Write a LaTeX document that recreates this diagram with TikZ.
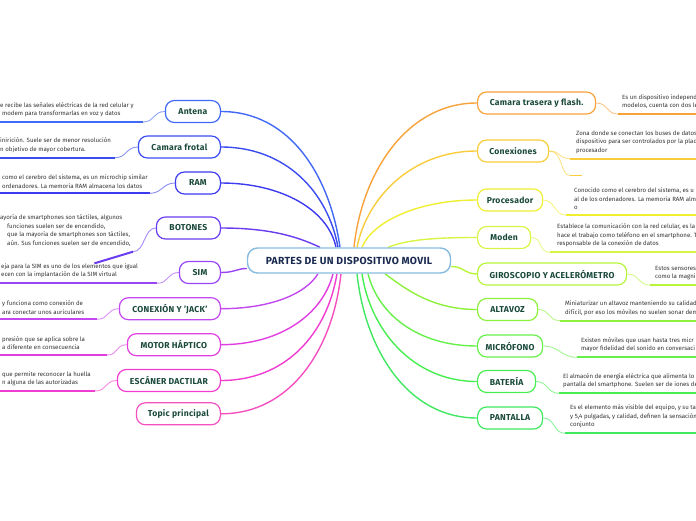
\documentclass[tikz,border=0pt]{standalone}
\usepackage{fontspec}
\setmainfont{Fira Sans}
\usetikzlibrary{backgrounds,calc}
\definecolor{cA}{HTML}{4169F5}
\definecolor{cB}{HTML}{3A4CF0}
\definecolor{cC}{HTML}{3D3BF0}
\definecolor{cD}{HTML}{6A3CF0}
\definecolor{cE}{HTML}{9A45F5}
\definecolor{cF}{HTML}{C348F0}
\definecolor{cG}{HTML}{E23DE0}
\definecolor{cH}{HTML}{F03CD0}
\definecolor{cI}{HTML}{F550C0}
\definecolor{rA}{HTML}{F8A23A}
\definecolor{rB}{HTML}{F8CC3A}
\definecolor{rC}{HTML}{F0EE30}
\definecolor{rD}{HTML}{D8F545}
\definecolor{rE}{HTML}{B8F53A}
\definecolor{rF}{HTML}{8CF03C}
\definecolor{rG}{HTML}{66F04A}
\definecolor{rH}{HTML}{48EE50}
\definecolor{rI}{HTML}{40E860}
\definecolor{mainc}{HTML}{86BBE0}
\definecolor{labelc}{HTML}{1B4A3C}
\definecolor{ctext}{HTML}{1A2A50}
\definecolor{descc}{HTML}{333333}
\begin{document}
\begin{tikzpicture}[x=1pt,y=-1pt,
  topic/.style={draw=#1, line width=1.2pt, fill=white, rounded corners=9pt,
    minimum height=22pt, inner sep=2pt, text=labelc,
    font=\fontsize{8.6}{10}\selectfont\bfseries\addfontfeature{LetterSpace=3}},
  conn/.style={draw=#1, line width=1.4pt},
  sub/.style={draw=#1, line width=0.9pt, draw opacity=0.6},
  ul/.style={draw=#1, line width=2pt},
  desc/.style={inner sep=0pt, align=left, anchor=south west, text=descc,
    font=\fontsize{6.1}{8.5}\selectfont}]
\useasboundingbox (0,0) rectangle (696,520);
\clip (0,0) rectangle (696,520);
% central node
\node[draw=mainc, line width=1.4pt, fill=white, rounded corners=10pt,
  minimum width=203pt, minimum height=25pt, text=ctext,
  font=\fontsize{10.3}{11}\selectfont\bfseries\addfontfeature{LetterSpace=3}] (c) at (349,260.5) {PARTES DE UN DISPOSITIVO MOVIL};
% left topics
\node[topic=cA, minimum width=55pt, anchor=east] (antena) at (221,111.5) {Antena};
\node[topic=cB, minimum width=82pt, anchor=east] (camf) at (221,147) {Camara frotal};
\node[topic=cC, minimum width=45pt, anchor=east] (ram) at (221,183) {RAM};
\node[topic=cD, minimum width=64pt, anchor=east] (bot) at (221,228) {BOTONES};
\node[topic=cE, minimum width=41pt, anchor=east] (sim) at (221,272.5) {SIM};
\node[topic=cF, minimum width=101pt, anchor=east] (jack) at (221,308.7) {CONEXIÓN Y 'JACK'};
\node[topic=cG, minimum width=93pt, anchor=east] (motor) at (221,344.7) {MOTOR HÁPTICO};
\node[topic=cH, minimum width=103pt, anchor=east] (esc) at (221,380.5) {ESCÁNER DACTILAR};
\node[topic=cI, minimum width=84pt, anchor=east] (topic) at (221,413.8) {Topic principal};
% right topics
\node[topic=rA, minimum width=118pt, anchor=west] (camt) at (477,103) {Camara trasera y flash.};
\node[topic=rB, minimum width=71pt, anchor=west] (conx) at (477,151) {Conexiones};
\node[topic=rC, minimum width=65pt, anchor=west] (proc) at (477,200) {Procesador};
\node[topic=rD, minimum width=53pt, anchor=west] (moden) at (477,237.5) {Moden};
\node[topic=rE, minimum width=149pt, anchor=west] (giro) at (477,274) {GIROSCOPIO Y ACELERÓMETRO};
\node[topic=rF, minimum width=60pt, anchor=west] (alta) at (477,309.5) {ALTAVOZ};
\node[topic=rG, minimum width=65pt, anchor=west] (micro) at (477,346) {MICRÓFONO};
\node[topic=rH, minimum width=58pt, anchor=west] (bat) at (477,381.5) {BATERÍA};
\node[topic=rI, minimum width=65pt, anchor=west] (pant) at (477,418) {PANTALLA};
% underline coordinates
\coordinate (aU) at (143,122);   \coordinate (aE) at (0,122);
\coordinate (bU) at (115,157.7); \coordinate (bE) at (0,157.7);
\coordinate (cU) at (150,193.3); \coordinate (cE) at (0,193.3);
\coordinate (dU) at (133,251.7); \coordinate (dE) at (0,251.7);
\coordinate (eU) at (157,283.3); \coordinate (eE) at (0,283.3);
\coordinate (fU) at (97,319.3);  \coordinate (fE) at (0,319.3);
\coordinate (gU) at (107,355);   \coordinate (gE) at (0,355);
\coordinate (hU) at (95,391);    \coordinate (hE) at (0,391);
\coordinate (r1U) at (618,114);   \coordinate (r1E) at (696,114);
\coordinate (r2U) at (570,158.7); \coordinate (r2E) at (696,158.7);
\coordinate (r2V) at (570,175.5); \coordinate (r2W) at (582,175.5);
\coordinate (r3U) at (566,215);   \coordinate (r3E) at (696,215);
\coordinate (r4U) at (550,252.3); \coordinate (r4E) at (696,252.3);
\coordinate (r5U) at (650,285);   \coordinate (r5E) at (696,285);
\coordinate (r6U) at (560,320.7); \coordinate (r6E) at (696,320.7);
\coordinate (r7U) at (577,357.3); \coordinate (r7E) at (696,357.3);
\coordinate (r8U) at (559,393.3); \coordinate (r8E) at (696,393.3);
\coordinate (r9U) at (565,433.3); \coordinate (r9E) at (696,433.3);
% descriptions left
\node[desc] (dA) at (0,117) {e recibe las señales  eléctricas de la red celular y\\\hspace*{2pt}modem para transformarlas en voz y datos};
\node[desc] (dB) at (0,152.7) {inirición. Suele ser de menor resolución\\n objetivo de mayor cobertura.};
\node[desc] (dC) at (2,188.3) {como el cerebro del sistema, es un microchip similar\\ordenadores. La memoria RAM almacena los datos};
\node[desc] (dD) at (0,246.7) {ayoría de smartphones son táctiles, algunos\\\hspace*{7pt}funciones suelen ser de encendido,\\\hspace*{7pt}que la mayoría de smartphones son táctiles,\\\hspace*{7pt}aún. Sus funciones suelen ser de encendido,};
\node[desc] (dE) at (1,278.3) {eja para la SIM es uno de los elementos que igual\\ecen con la implantación de la SIM virtual};
\node[desc] (dF) at (2,314.3) {y funciona como conexión de\\ara conectar unos auriculares};
\node[desc] (dG) at (2,350) {presión que se aplica sobre la\\a diferente en consecuencia};
\node[desc] (dH) at (2,386) {que permite reconocer la huella\\n alguna de las autorizadas};
% descriptions right
\node[desc] (sA) at (622,109) {Es un dispositivo independ\\modelos, cuenta con dos le};
\node[desc] (sB) at (576,153.7) {Zona donde se conectan los buses de datos\\dispositivo para ser controlados por la placa\\procesador};
\node[desc] (sC) at (574,210) {Conocido como el cerebro del sistema, es u\\al de los ordenadores. La memoria RAM alm\\o};
\node[desc] (sD) at (557,247.3) {Establece la comunicación con la red celular, es la\\hace el trabajo como teléfono en el smartphone. T\\responsable de la conexión de datos};
\node[desc] (sE) at (655,280) {Estos sensores\\como la magni};
\node[desc] (sF) at (565,315.7) {Miniaturizar un altavoz manteniendo su calidad\\difícil, por eso los móviles no suelen sonar dem};
\node[desc] (sG) at (581,352.3) {Existen móviles que usan hasta tres micr\\mayor fidelidad del sonido en conversaci};
\node[desc] (sH) at (563,388.3) {El almacén de energía eléctrica que alimenta lo\\pantalla del smartphone. Suelen ser de iones de};
\node[desc] (sI) at (570,428.3) {Es el elemento más visible del equipo, y su ta\\y 5,4 pulgadas, y calidad, definen la sensación\\conjunto};
\begin{pgfonlayer}{background}
% central connectors left
\draw[conn=cA] ([xshift=-9pt]c.north) .. controls +(-10,-70) and +(70,0) .. (antena.east);
\draw[conn=cB] ([xshift=-11pt]c.north) .. controls +(-10,-55) and +(65,0) .. (camf.east);
\draw[conn=cC] ([xshift=-13pt]c.north) .. controls +(-8,-38) and +(60,0) .. (ram.east);
\draw[conn=cD] ([xshift=-29pt]c.north) .. controls +(-25,-12) and +(45,0) .. (bot.east);
\draw[conn=cE] ([yshift=-8pt]c.west) .. controls +(-10,0) and +(14,0) .. (sim.east);
\draw[conn=cF] ([xshift=-31pt]c.south) .. controls +(-12,20) and +(50,0) .. (jack.east);
\draw[conn=cG] ([xshift=-16pt]c.south) .. controls +(-10,40) and +(60,0) .. (motor.east);
\draw[conn=cH] ([xshift=-12pt]c.south) .. controls +(-10,60) and +(65,0) .. (esc.east);
\draw[conn=cI] ([xshift=-8pt]c.south) .. controls +(-8,75) and +(70,0) .. (topic.east);
% central connectors right
\draw[conn=rA] ([xshift=5pt]c.north) .. controls +(8,-75) and +(-70,0) .. (camt.west);
\draw[conn=rB] ([xshift=8pt]c.north) .. controls +(10,-50) and +(-65,0) .. (conx.west);
\draw[conn=rC] ([xshift=13pt]c.north) .. controls +(10,-25) and +(-60,0) .. (proc.west);
\draw[conn=rD] ([xshift=39pt]c.north) .. controls +(20,-8) and +(-40,0) .. (moden.west);
\draw[conn=rE] ([yshift=-6pt]c.east) .. controls +(12,0) and +(-12,0) .. (giro.west);
\draw[conn=rF] ([xshift=36pt]c.south) .. controls +(20,15) and +(-45,0) .. (alta.west);
\draw[conn=rG] ([xshift=19pt]c.south) .. controls +(10,40) and +(-60,0) .. (micro.west);
\draw[conn=rH] ([xshift=13pt]c.south) .. controls +(8,55) and +(-65,0) .. (bat.west);
\draw[conn=rI] ([xshift=8pt]c.south) .. controls +(8,75) and +(-70,0) .. (pant.west);
% sub connectors left
\draw[sub=cA] (antena.west) .. controls +(-12,0) and +(12,0) .. (aU);
\draw[ul=cA] (aU) -- (aE);
\draw[sub=cB] (camf.west) .. controls +(-12,0) and +(12,0) .. (bU);
\draw[ul=cB] (bU) -- (bE);
\draw[sub=cC] (ram.west) .. controls +(-12,0) and +(12,0) .. (cU);
\draw[ul=cC] (cU) -- (cE);
\draw[sub=cD] (bot.west) .. controls +(-12,0) and +(12,0) .. (dU);
\draw[ul=cD] (dU) -- (dE);
\draw[sub=cE] (sim.west) .. controls +(-12,0) and +(12,0) .. (eU);
\draw[ul=cE] (eU) -- (eE);
\draw[sub=cF] (jack.west) .. controls +(-12,0) and +(12,0) .. (fU);
\draw[ul=cF] (fU) -- (fE);
\draw[sub=cG] (motor.west) .. controls +(-12,0) and +(12,0) .. (gU);
\draw[ul=cG] (gU) -- (gE);
\draw[sub=cH] (esc.west) .. controls +(-12,0) and +(12,0) .. (hU);
\draw[ul=cH] (hU) -- (hE);
% sub connectors right
\draw[sub=rA] (camt.east) .. controls +(12,0) and +(-12,0) .. (r1U);
\draw[ul=rA] (r1U) -- (r1E);
\draw[sub=rB] (conx.east) .. controls +(12,0) and +(-12,0) .. (r2U);
\draw[ul=rB] (r2U) -- (r2E);
\draw[sub=rB] (conx.east) .. controls +(14,0) and +(-10,0) .. (r2V);
\draw[ul=rB, line width=1.5pt] (r2V) -- (r2W);
\draw[sub=rC] (proc.east) .. controls +(12,0) and +(-12,0) .. (r3U);
\draw[ul=rC] (r3U) -- (r3E);
\draw[sub=rD] (moden.east) .. controls +(12,0) and +(-12,0) .. (r4U);
\draw[ul=rD] (r4U) -- (r4E);
\draw[sub=rE] (giro.east) .. controls +(12,0) and +(-12,0) .. (r5U);
\draw[ul=rE] (r5U) -- (r5E);
\draw[sub=rF] (alta.east) .. controls +(12,0) and +(-12,0) .. (r6U);
\draw[ul=rF] (r6U) -- (r6E);
\draw[sub=rG] (micro.east) .. controls +(16,0) and +(-16,0) .. (r7U);
\draw[ul=rG] (r7U) -- (r7E);
\draw[sub=rH] (bat.east) .. controls +(12,0) and +(-12,0) .. (r8U);
\draw[ul=rH] (r8U) -- (r8E);
\draw[sub=rI] (pant.east) .. controls +(12,0) and +(-12,0) .. (r9U);
\draw[ul=rI] (r9U) -- (r9E);
\end{pgfonlayer}
\end{tikzpicture}
\end{document}
